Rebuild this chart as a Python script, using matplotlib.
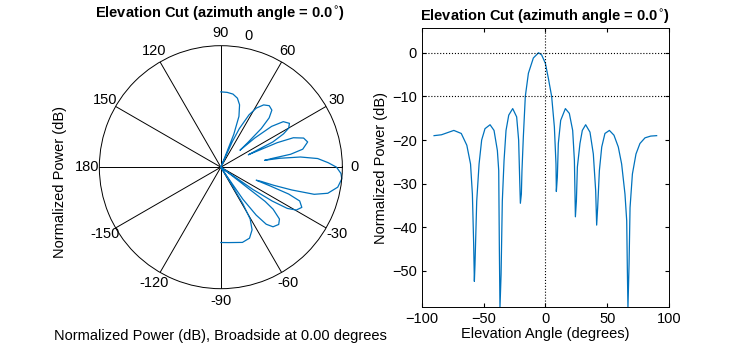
import numpy as np
import matplotlib
matplotlib.use("Agg")
import matplotlib.pyplot as plt

plt.rcParams['font.family'] = ['Liberation Sans', 'DejaVu Sans']

# elevation cut
elev_deg = [-90, -84, -74, -68, -63.5, -60.5, -59, -58, -57.4, -56.9, -55.5, -53.6,
            -51.5, -48.8, -44.7, -41.5, -38.8, -37.7, -37.2, -36.7, -35.8, -34.8,
            -33.4, -31.8, -29.6, -26.4, -23.2, -21.6, -20.8, -20.2, -19.4, -18.9,
            -17.8, -16.2, -13.7, -9.7, -5.5, -3, 0, 2.4, 5.1, 7.3, 8.6, 8.9, 9.7,
            10.5, 12.4, 16.2, 19.4, 22.1, 23.5, 24.3, 25.1, 25.9, 28, 29.9, 32.6,
            36.1, 38.8, 40.7, 41.5, 42.3, 43.7, 45.6, 48.2, 51.8, 55.5, 59, 61.7,
            64.4, 65.8, 66.3, 66.8, 67.7, 68.5, 70.4, 73.3, 76.5, 80.6, 85.2, 90]
power_db = [-19.0, -18.8, -17.8, -18.5, -21.2, -25.5, -32.4, -43.5, -52.4, -48.5,
            -34.0, -25.5, -20.0, -17.4, -16.5, -17.8, -22.4, -27.0, -44.7, -58.5,
            -50.8, -34.0, -24.7, -17.8, -14.3, -12.8, -14.7, -20.0, -28.5, -34.5,
            -32.4, -27.0, -19.3, -10.0, -4.7, -1.2, 0.0, -0.5, -2.4, -5.8, -10.0,
            -17.0, -25.5, -31.8, -28.5, -20.8, -15.5, -12.8, -13.9, -17.8, -24.7,
            -37.6, -34.0, -26.2, -20.8, -17.8, -16.5, -18.2, -23.2, -31.6, -39.5,
            -35.5, -27.0, -21.6, -18.5, -17.8, -18.9, -21.6, -25.5, -32.4, -38.5,
            -49.3, -58.5, -48.5, -35.5, -27.8, -23.2, -20.8, -19.5, -19.1, -19.0]

spoke_deg = [0, 30, 60, 90, 120, 150, 180, 210, 240, 270, 300, 330]
spoke_labels = ['0', '30', '60', '90', '120', '150', '180', '-150', '-120', '-90', '-60', '-30']
x_ticks = [-100, -50, 0, 50, 100]
y_ticks = [-50, -40, -30, -20, -10, 0]

blue = '#0072BD'
title = 'Elevation Cut (azimuth angle = 0.0$^{\\circ}$)'
fs = 10.5

fig = plt.figure(figsize=(7.38, 3.49), dpi=100)

# --- polar pattern (left) ---
ax1 = fig.add_axes([0.1346, 0.1728, 0.3293, 0.6963], projection='polar')
r_floor = -50
ax1.plot(np.radians(elev_deg), np.maximum(power_db, r_floor), color=blue, lw=0.9, clip_on=False)
ax1.set_rlim(r_floor, 0)
ax1.set_thetagrids(spoke_deg, spoke_labels, fontsize=fs)
ax1.set_rticks([])
ax1.tick_params(axis='x', pad=-1.5)
ax1.xaxis.grid(True, color='black', linestyle='-', lw=0.7)
ax1.spines['polar'].set_linewidth(0.7)
ax1.text(np.radians(78), 5.2, '0', fontsize=fs, ha='center', va='center', clip_on=False)
fig.text(220 / 738, 1 - 14 / 349, title, fontsize=fs, fontweight='bold', ha='center', va='center')
fig.text(0.081, 0.479, 'Normalized Power (dB)', rotation=90, fontsize=fs, ha='center', va='center')
fig.text(0.299, 0.018, 'Normalized Power (dB), Broadside at 0.00 degrees', fontsize=fs,
         ha='center', va='bottom')

# --- rectangular pattern (right) ---
ax2 = fig.add_axes([0.5714, 0.1212, 0.3351, 0.7977])
ax2.plot(elev_deg, power_db, color=blue, lw=0.9)
ax2.axhline(0, color='black', ls=':', lw=0.8)
ax2.axhline(-10, color='black', ls=':', lw=0.8)
ax2.axvline(0, color='black', ls=':', lw=0.8)
ax2.set_xlim(-100, 100)
ax2.set_ylim(-58.2, 5.6)
ax2.set_xticks(x_ticks)
ax2.set_yticks(y_ticks)
ax2.tick_params(direction='in', top=True, right=True, labelsize=fs, length=3)
for s in ax2.spines.values():
    s.set_linewidth(0.7)
ax2.set_xlabel('Elevation Angle (degrees)', fontsize=fs, labelpad=1)
ax2.set_ylabel('Normalized Power (dB)', fontsize=fs, labelpad=3)
ax2.set_title(title, fontsize=fs, fontweight='bold', pad=5)

fig.savefig('out.png', dpi=100)
